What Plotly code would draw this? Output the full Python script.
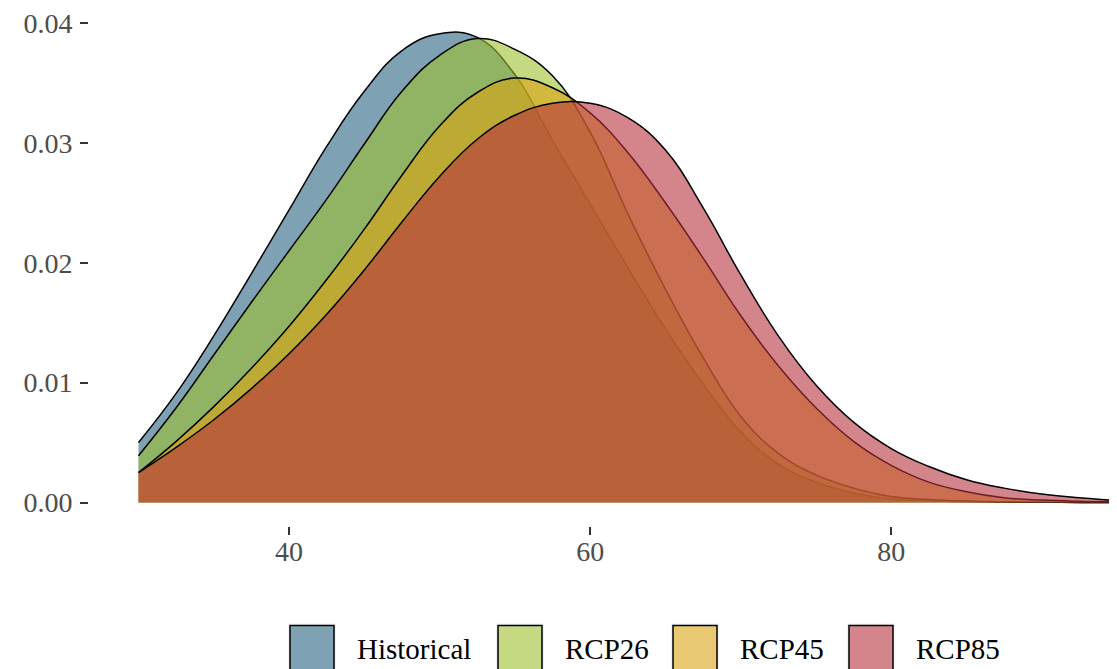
import plotly.graph_objects as go

# ---------------- data ----------------
x_vals = [30, 32.5, 35, 37.5, 40, 42.5, 45, 47.5, 50, 52.5, 55, 57.5, 60, 62.5,
          65, 67.5, 70, 72.5, 75, 77.5, 80, 82.5, 85, 87.5, 90, 92.5, 95]

historical = [0.0050, 0.0091, 0.0139, 0.0191, 0.0244, 0.0297, 0.0343, 0.0377, 0.0391,
              0.0388, 0.0357, 0.0302, 0.0249, 0.0196, 0.0145, 0.0099, 0.0059, 0.0032,
              0.0017, 0.0008, 0.0003, 0.00015, 0.00008, 0.00004, 0.00002, 0.00001, 0.0]

rcp26 = [0.0039, 0.0079, 0.0123, 0.0167, 0.0210, 0.0253, 0.0299, 0.0343, 0.0373,
         0.0387, 0.0378, 0.0356, 0.0309, 0.0241, 0.0178, 0.0121, 0.0072, 0.0041,
         0.0023, 0.0012, 0.0005, 0.00025, 0.00012, 0.00006, 0.00003, 0.00001, 0.0]

rcp45 = [0.0025, 0.0051, 0.0080, 0.0112, 0.0147, 0.0186, 0.0228, 0.0273, 0.0314,
         0.0342, 0.0354, 0.0346, 0.0325, 0.0292, 0.0250, 0.0204, 0.0156, 0.0114,
         0.0079, 0.0051, 0.0031, 0.0017, 0.0009, 0.0004, 0.0002, 0.0001, 0.00005]

rcp85 = [0.0025, 0.0046, 0.0069, 0.0095, 0.0124, 0.0157, 0.0194, 0.0234, 0.0272,
         0.0303, 0.0323, 0.0333, 0.0333, 0.0321, 0.0294, 0.0246, 0.0190, 0.0139,
         0.0098, 0.0067, 0.0045, 0.0030, 0.0019, 0.0012, 0.0007, 0.0004, 0.00017]

series_names = ["Historical", "RCP26", "RCP45", "RCP85"]
series_values = [historical, rcp26, rcp45, rcp85]

x_tick_vals = [40, 60, 80]
y_tick_vals = [0.00, 0.01, 0.02, 0.03, 0.04]
y_tick_text = ["0.00", "0.01", "0.02", "0.03", "0.04"]

# ---------------- style ----------------
base_colors = [(40, 98, 130), (158, 192, 47), (217, 163, 20), (184, 50, 62)]
alpha = 0.6
FONT = "Liberation Serif"

OFF = 8                      # page body margin offset
W, H = 1117 - OFF, 669 - OFF
ML, MR, MT, MB = 89 - OFF, 0, 0, 143
PW = W - ML - MR
PH = H - MT - MB


def px_to_paper_x(px):       # px given in window coordinates
    return (px - OFF - ML) / PW


def px_to_paper_y(py):
    return (H - MB - (py - OFF)) / PH


fig = go.Figure()
for name, vals, col in zip(series_names, series_values, base_colors):
    fig.add_trace(go.Scatter(
        x=x_vals, y=vals, name=name, mode="lines",
        line=dict(color="black", width=1.5, shape="spline", smoothing=1.2),
        fill="tozeroy",
        fillcolor=f"rgba({col[0]},{col[1]},{col[2]},{alpha})",
        showlegend=False, hoverinfo="skip",
    ))

# ---------------- manual legend ----------------
legend_key_px = [290, 498, 673, 849]
key_w = 44
key_top, key_bot = 626, 680
shapes = []
annotations = []
for name, col, kx in zip(series_names, base_colors, legend_key_px):
    shapes.append(dict(
        type="rect", xref="paper", yref="paper",
        x0=px_to_paper_x(kx - 2), x1=px_to_paper_x(kx + key_w + 2),
        y0=px_to_paper_y(key_top - 2), y1=px_to_paper_y(key_bot),
        fillcolor="#F2F2F2", line=dict(width=0), layer="above",
    ))
    shapes.append(dict(
        type="rect", xref="paper", yref="paper",
        x0=px_to_paper_x(kx), x1=px_to_paper_x(kx + key_w),
        y0=px_to_paper_y(key_top), y1=px_to_paper_y(key_bot),
        fillcolor="white", line=dict(width=0), layer="above",
    ))
    shapes.append(dict(
        type="rect", xref="paper", yref="paper",
        x0=px_to_paper_x(kx), x1=px_to_paper_x(kx + key_w),
        y0=px_to_paper_y(key_top), y1=px_to_paper_y(key_bot),
        fillcolor=f"rgba({col[0]},{col[1]},{col[2]},{alpha})",
        line=dict(color="black", width=1.5), layer="above",
    ))
    annotations.append(dict(
        x=px_to_paper_x(kx + 65), y=px_to_paper_y(649),
        xref="paper", yref="paper", xanchor="left", yanchor="middle",
        text=name, showarrow=False,
        font=dict(family=FONT, size=29, color="black"),
    ))

axis_common = dict(
    showgrid=False, zeroline=False, showline=False,
    ticks="outside", ticklen=8, tickwidth=1.5, tickcolor="#333333",
    tickfont=dict(family=FONT, size=28, color="#4D4D4D"),
    ticklabeloverflow="allow",
)

y_top = 0.04 + (21 - OFF) / 12025.0

fig.update_layout(
    width=W, height=H,
    margin=dict(l=ML, r=MR, t=MT, b=MB, pad=0),
    paper_bgcolor="white", plot_bgcolor="white",
    xaxis=dict(range=[26.71, 95.0], tickvals=x_tick_vals, ticklabelstandoff=-8,
               **axis_common),
    yaxis=dict(range=[-0.00196, y_top], tickvals=y_tick_vals, ticktext=y_tick_text,
               ticklabelstandoff=2, **axis_common),
    shapes=shapes,
    annotations=annotations,
    font=dict(family=FONT),
)

fig.write_html("out.html")
